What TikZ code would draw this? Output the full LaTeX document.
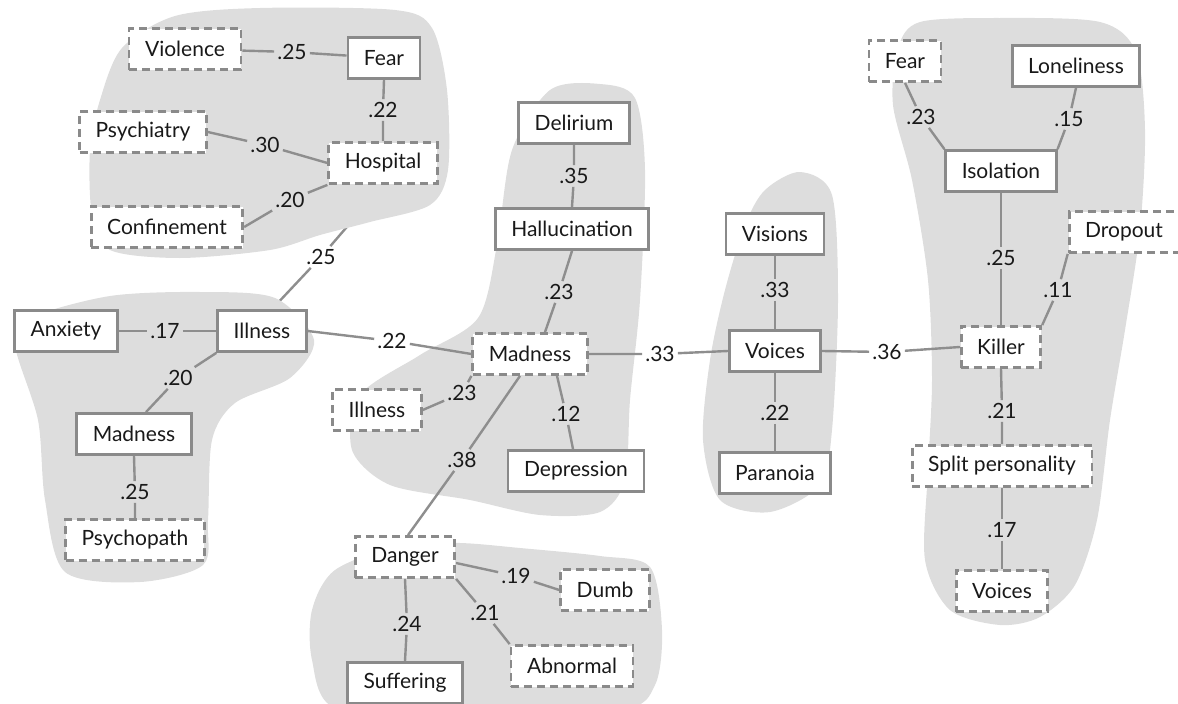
\documentclass[tikz,border=0pt]{standalone}
\usepackage{fontspec}
\setmainfont{Lato}
\usetikzlibrary{calc}

\pgfdeclarelayer{under}
\pgfdeclarelayer{blobs}
\pgfsetlayers{under,blobs,main}

\definecolor{boxgray}{HTML}{8A8A8A}
\definecolor{linegray}{HTML}{8E8E8E}
\definecolor{blobgray}{HTML}{DDDDDD}

\begin{document}
\begin{tikzpicture}[x=1pt, y=-1pt, font=\fontsize{21}{24}\selectfont,
  block/.style={draw=boxgray, line width=2.8pt, fill=white, text=black!90, minimum height=41pt, inner xsep=16pt},
  dashblock/.style={block, dash pattern=on 8pt off 5pt},
  weight/.style={inner sep=3pt, text=black!90},
  link/.style={draw=linegray, line width=2.4pt},
  blob/.style={fill=blobgray, draw=none}]

  \useasboundingbox (0,0) rectangle (1178,704);

  % Hospital cluster
  \node[dashblock] (Violence) at (185,49) {Violence};
  \node[block] (FearA) at (384,58) {Fear};
  \node[dashblock] (Psychiatry) at (143,132) {Psychiatry};
  \node[dashblock] (Hospital) at (383,163) {Hospital};
  \node[dashblock] (Confinement) at (167,227) {Confinement};

  % Illness cluster
  \node[block] (Anxiety) at (66,331) {Anxiety};
  \node[block] (IllnessA) at (262,331) {Illness};
  \node[block] (MadnessA) at (134,434) {Madness};
  \node[dashblock] (Psychopath) at (135,540) {Psychopath};

  % Madness cluster
  \node[block] (Delirium) at (574,123) {Delirium};
  \node[block] (Hallucination) at (572,229) {Hallucination};
  \node[dashblock] (MadnessB) at (530,354) {Madness};
  \node[dashblock] (IllnessB) at (377,410) {Illness};
  \node[block] (Depression) at (576,471) {Depression};

  % Danger cluster
  \node[dashblock] (Danger) at (405,557) {Danger};
  \node[dashblock] (Dumb) at (605,590) {Dumb};
  \node[dashblock] (Abnormal) at (572,666) {Abnormal};
  \node[block] (Suffering) at (405,683) {Suffering};

  % Voices cluster
  \node[block] (Visions) at (775,234) {Visions};
  \node[block] (VoicesA) at (775,351) {Voices};
  \node[block] (Paranoia) at (775,473) {Paranoia};

  % Killer cluster
  \node[dashblock] (FearB) at (905,61) {Fear};
  \node[block] (Loneliness) at (1076,66) {Loneliness};
  \node[block] (Isolation) at (1001,171) {Isolation};
  \node[dashblock] (Dropout) at (1124,232) {Dropout};
  \node[dashblock] (Killer) at (1001,347) {Killer};
  \node[dashblock] (Split) at (1002,466) {Split personality};
  \node[dashblock] (VoicesB) at (1002,591) {Voices};

  % weights
  \node[weight] (w1) at (292,52) {.25};
  \node[weight] (w2) at (383,110) {.22};
  \node[weight] (w3) at (265,145) {.30};
  \node[weight] (w4) at (290,200) {.20};
  \node[weight] (w5) at (321,257) {.25};
  \node[weight] (w6) at (165,331) {.17};
  \node[weight] (w7) at (178,378) {.20};
  \node[weight] (w8) at (135,492) {.25};
  \node[weight] (w9) at (392,341) {.22};
  \node[weight] (w10) at (574,176) {.35};
  \node[weight] (w11) at (559,292) {.23};
  \node[weight] (w12) at (462,393) {.23};
  \node[weight] (w13) at (566,414) {.12};
  \node[weight] (w14) at (462,460) {.38};
  \node[weight] (w15) at (660,354) {.33};
  \node[weight] (w16) at (775,290) {.33};
  \node[weight] (w17) at (775,413) {.22};
  \node[weight] (w18) at (887,352) {.36};
  \node[weight] (w19) at (921,117) {.23};
  \node[weight] (w20) at (1069,119) {.15};
  \node[weight] (w21) at (1001,258) {.25};
  \node[weight] (w22) at (1058,290) {.11};
  \node[weight] (w23) at (1002,411) {.21};
  \node[weight] (w24) at (1002,530) {.17};
  \node[weight] (w25) at (516,576) {.19};
  \node[weight] (w26) at (485,613) {.21};
  \node[weight] (w27) at (407,624) {.24};

  % links
  \draw[link] (Violence) -- (w1) -- (FearA);
  \draw[link] (FearA.south) -- (w2) -- (Hospital.north);
  \draw[link] (Psychiatry.east) -- (w3) -- (Hospital.west);
  \draw[link] (Confinement.east) -- (w4) -- (Hospital.south west);
  \draw[link] (Anxiety) -- (w6) -- (IllnessA);
  \draw[link] (IllnessA.south west) -- (w7) -- ([xshift=12pt]MadnessA.north);
  \draw[link] (MadnessA.south) -- (w8) -- (Psychopath.north);
  \draw[link] (IllnessA.east) -- (w9) -- (MadnessB.west);
  \draw[link] (Delirium.south) -- (w10) -- (Hallucination.north);
  \draw[link] (Hallucination.south) -- (w11) -- ([xshift=15pt]MadnessB.north);
  \draw[link] (IllnessB.east) -- (w12) -- (MadnessB.south west);
  \draw[link] ([xshift=27pt]MadnessB.south) -- (w13) -- ([xshift=-3pt]Depression.north);
  \draw[link] ([xshift=-10pt]MadnessB.south) -- (w14) -- ([xshift=3pt]Danger.north);
  \draw[link] (MadnessB.east) -- (w15) -- (VoicesA.west);
  \draw[link] (Visions.south) -- (w16) -- (VoicesA.north);
  \draw[link] (VoicesA.south) -- (w17) -- (Paranoia.north);
  \draw[link] (VoicesA.east) -- (w18) -- (Killer.west);
  \draw[link] (FearB.south) -- (w19) -- (Isolation.north west);
  \draw[link] (Loneliness.south) -- (w20) -- (Isolation.north east);
  \draw[link] (Isolation.south) -- (w21) -- (Killer.north);
  \draw[link] (Dropout.south west) -- (w22) -- (Killer.north east);
  \draw[link] (Killer.south) -- (w23) -- (Split.north);
  \draw[link] (Split.south) -- (w24) -- (VoicesB.north);
  \draw[link] ([yshift=-6pt]Danger.east) -- (w25) -- (Dumb.west);
  \draw[link] (Danger.south east) -- (w26) -- (Abnormal.north west);
  \draw[link] (Danger.south) -- (w27) -- (Suffering.north);

  % this one runs under the blob
  \begin{pgfonlayer}{under}
    \draw[link] (Hospital.south) -- (w5) -- ([xshift=10pt]IllnessA.north);
  \end{pgfonlayer}

  % blobs
  \begin{pgfonlayer}{blobs}
    \fill[blob] plot[smooth cycle] coordinates {(100,100) (122,48) (175,16) (260,8) (395,10) (432,28) (447,90) (448,170) (430,205) (370,222) (320,235) (270,250) (180,258) (110,250) (92,215) (90,150)};
    \fill[blob] plot[smooth cycle] coordinates {(30,318) (110,296) (200,292) (275,298) (314,340) (290,378) (235,403) (212,440) (208,520) (203,565) (140,582) (65,572) (45,500) (38,420) (15,345)};
    \fill[blob] plot[smooth cycle] coordinates {(550,90) (600,84) (635,98) (645,170) (640,300) (630,400) (625,480) (600,512) (540,515) (470,500) (390,485) (352,450) (360,395) (420,355) (478,318) (497,245) (512,150)};
    \fill[blob] plot[smooth cycle] coordinates {(765,190) (800,172) (832,195) (838,300) (832,430) (820,485) (770,512) (720,500) (703,440) (710,360) (725,290) (745,225)};
    \fill[blob] plot[smooth cycle] coordinates {(335,570) (400,545) (460,543) (520,548) (600,556) (650,567) (662,630) (655,685) (620,710) (450,715) (335,708) (312,660) (312,610)};
    \fill[blob] plot[smooth cycle] coordinates {(920,22) (1000,18) (1100,22) (1136,52) (1145,130) (1140,230) (1125,330) (1110,420) (1097,520) (1075,585) (1040,617) (1000,625) (950,610) (925,560) (928,470) (932,380) (928,280) (912,180) (893,105) (898,48)};
  \end{pgfonlayer}

\end{tikzpicture}
\end{document}
